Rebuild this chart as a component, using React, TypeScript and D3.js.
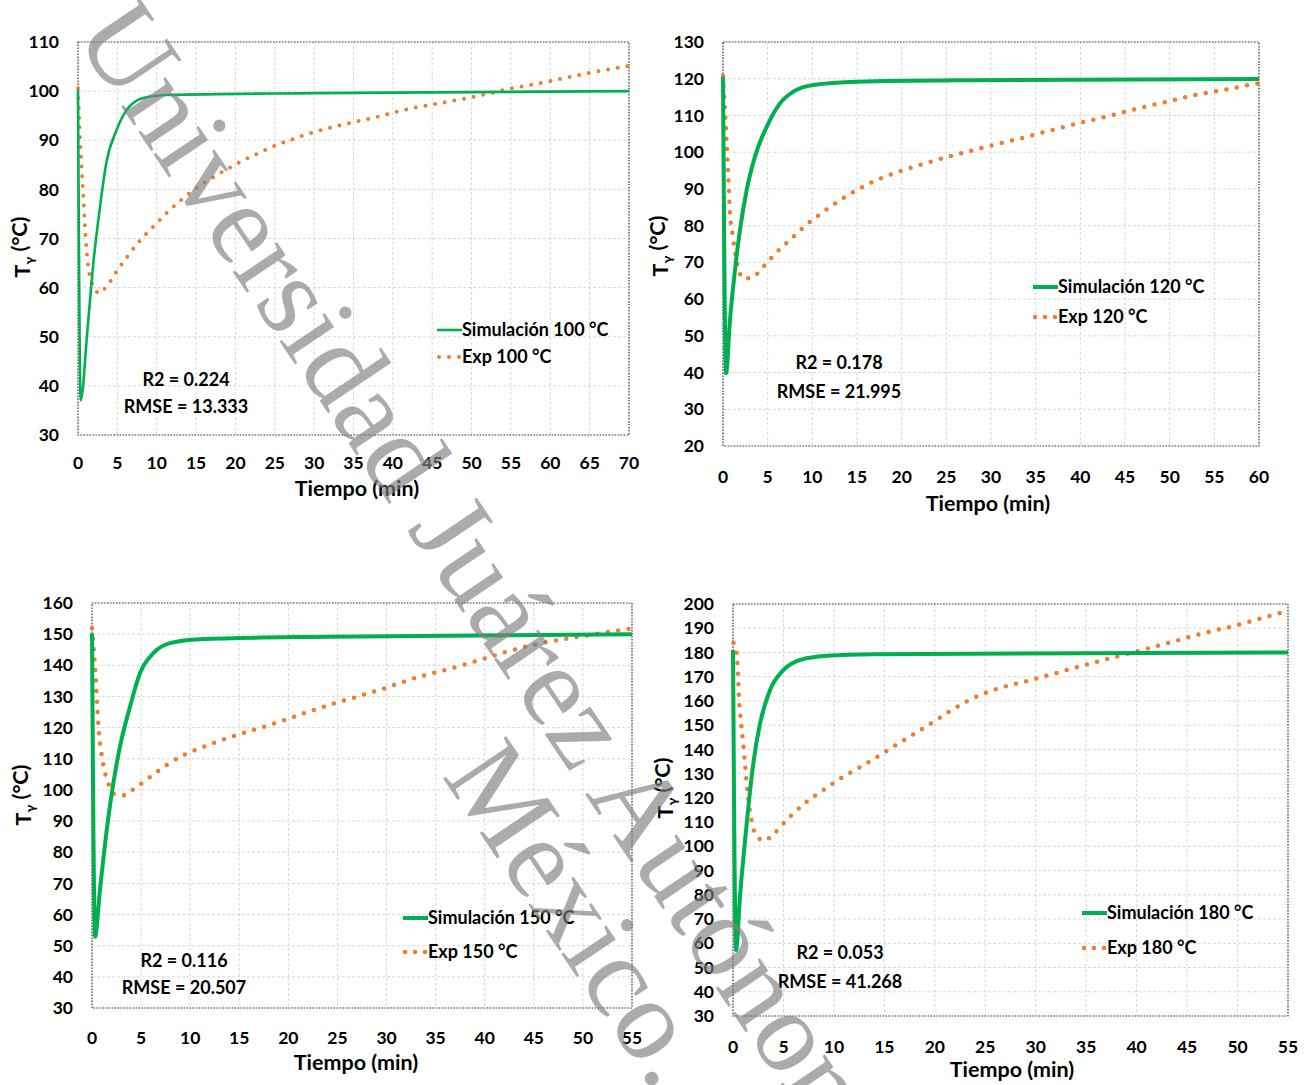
import React from "react";
import * as d3 from "d3";

// [tiempo (min), temperatura (°C)]
const sim100: [number, number][] = [[0, 100.3], [0.34, 37.1], [1.2, 51.4], [1.95, 65], [2.8, 76.5], [3.6, 85.4], [4.9, 92.1], [6.2, 96.2], [8.3, 98.6], [11.3, 99.2], [30, 99.6], [70, 100]];
const exp100: [number, number][] = [[0, 100.6], [0.25, 90.4], [0.47, 84.3], [0.68, 78.2], [0.89, 72.2], [1.06, 68.2], [1.31, 64.2], [1.52, 62.2], [1.95, 60.3], [2.67, 58.9], [3.56, 60.1], [4.96, 63.4], [6.4, 66.6], [7.88, 69.6], [9.57, 72.4], [11.27, 75.2], [13, 77.7], [14.87, 80.1], [16.86, 82.2], [18.9, 84.1], [21, 85.9], [23.1, 87.5], [25.2, 89], [27.4, 90.3], [29.5, 91.4], [32.9, 92.9], [37.3, 94.5], [41.8, 96.3], [46.4, 97.7], [49.8, 98.7], [51.9, 99.4], [54.3, 100.3], [57.6, 101.3], [61, 102.4], [64.3, 103.5], [67.6, 104.5], [70, 105.1]];

const sim120: [number, number][] = [[0, 120.5], [0.34, 39.8], [0.78, 54.3], [1.34, 67.9], [1.9, 78.8], [2.65, 89.7], [3.58, 98.8], [4.89, 106.9], [6.38, 113.3], [7.87, 116.5], [10.1, 118.3], [15, 119.2], [27.5, 119.6], [60, 119.9]];
const exp120: [number, number][] = [[0, 120.8], [0.22, 111.5], [0.41, 102.4], [0.6, 92.9], [0.78, 83.6], [1.08, 77.4], [1.46, 71.3], [1.72, 68.3], [2.28, 65.6], [3.32, 65.9], [4.18, 67.9], [5, 70.1], [5.78, 72.2], [7.5, 76.1], [9.26, 80.1], [11.1, 83.5], [13, 86.8], [15, 89.7], [17, 92.2], [19.1, 94.2], [21.3, 96], [23.4, 97.5], [25.6, 99], [27.6, 100.3], [30, 101.8], [33.2, 103.7], [36.5, 105.8], [39.8, 107.9], [43.1, 109.8], [46.3, 111.8], [49.6, 113.7], [52.9, 115.6], [56.2, 117], [59.5, 118.6], [60, 118.8]];

const sim150: [number, number][] = [[0, 150.3], [0.31, 52.9], [0.81, 67.9], [1.5, 87.1], [2.17, 102.1], [2.85, 113.9], [3.87, 126.7], [4.89, 137.5], [6.25, 143.9], [7.94, 147.1], [11, 148.4], [24.2, 149.2], [55, 150]];
const exp150: [number, number][] = [[0, 151.9], [0.1, 148.4], [0.27, 141.2], [0.41, 133.8], [0.54, 126.5], [0.68, 119.2], [0.95, 112.1], [1.36, 105], [1.73, 101.6], [2.27, 98.7], [3.26, 98.3], [4.21, 100.2], [5.91, 104.1], [7.6, 108], [9.47, 111.4], [11.4, 113.9], [13.3, 116.1], [15.3, 118.2], [17.3, 120.1], [19.3, 122.1], [21.3, 124.3], [24.2, 127.3], [27.3, 130.2], [30.25, 133.1], [33.2, 136.2], [36.2, 138.7], [39.2, 141.4], [42.2, 144.3], [45.3, 146.8], [48.3, 148.5], [51.4, 150.1], [54.5, 151.6], [55, 151.8]];

const sim180: [number, number][] = [[0, 181], [0.3, 57.2], [0.69, 79.2], [1.36, 109.5], [2.01, 134.2], [2.68, 150.7], [3.67, 164.5], [4.99, 172.7], [6.64, 176.9], [9.3, 178.6], [13.9, 179.3], [55, 180]];
const exp180: [number, number][] = [[0.05, 184], [0.36, 179.9], [0.5, 170.4], [0.59, 161.1], [0.79, 151.4], [1.02, 142.1], [1.22, 132.6], [1.42, 123.1], [1.71, 113.7], [2.28, 104.7], [3.1, 102.3], [4, 105], [5.48, 111.6], [7.07, 117.6], [8.79, 122.8], [10.5, 127.6], [12.4, 132.2], [14.2, 136.7], [16, 141.4], [17.8, 146], [19.6, 150.7], [21.4, 155.5], [23.2, 159.9], [26.1, 164.9], [29.1, 168.2], [32.1, 171.6], [35.2, 175.2], [38.2, 178.5], [40.2, 180.6], [43.2, 184], [46.2, 187.5], [49.3, 190.6], [52.2, 193.9], [54.3, 196.3], [55, 196.8]];

const simLabels = ["Simulación 100 °C", "Simulación 120 °C", "Simulación 150 °C", "Simulación 180 °C"];
const expLabels = ["Exp 100 °C", "Exp 120 °C", "Exp 150 °C", "Exp 180 °C"];
const r2Labels = ["R2 = 0.224", "R2 = 0.178", "R2 = 0.116", "R2 = 0.053"];
const rmseLabels = ["RMSE = 13.333", "RMSE = 21.995", "RMSE = 20.507", "RMSE = 41.268"];
const xMaxes = [70, 60, 55, 55];
const yDomains: [number, number][] = [[30, 110], [20, 130], [30, 160], [30, 200]];

const FONT = "Lato, 'Open Sans', sans-serif";
const GREEN = "#00b050";
const ORANGE = "#ed7d31";

// layout of each panel (pixels)
const layouts = [
  { l: 78, r: 629, t: 42, b: 435, lw: 2.6, dot: 4, gap: 9.8, legX: 437, legY: [330, 357], statX: 186, statY: [380, 407], yTitle: [22, 247], xTitle: [357, 488], xLab: 463 },
  { l: 723, r: 1259, t: 42, b: 446, lw: 4, dot: 4.5, gap: 10.5, legX: 1033, legY: [287, 317], statX: 839, statY: [363, 392], yTitle: [660, 246], xTitle: [988, 503], xLab: 477 },
  { l: 92, r: 632, t: 603, b: 1008, lw: 4, dot: 4.5, gap: 10.5, legX: 403, legY: [918, 952], statX: 184, statY: [961, 988], yTitle: [23, 795], xTitle: [356, 1062], xLab: 1038 },
  { l: 733, r: 1288, t: 604, b: 1016, lw: 4, dot: 4.5, gap: 10.5, legX: 1082, legY: [913, 948], statX: 840, statY: [953, 982], yTitle: [665, 788], xTitle: [1012, 1069], xLab: 1047 },
];

const simSeries = [sim100, sim120, sim150, sim180];
const expSeries = [exp100, exp120, exp150, exp180];

function Panel({ i }: { i: number }) {
  const L = layouts[i];
  const x = d3.scaleLinear().domain([0, xMaxes[i]]).range([L.l, L.r]);
  const y = d3.scaleLinear().domain(yDomains[i]).range([L.b, L.t]);
  const xTicks = d3.range(0, xMaxes[i] + 0.1, 5);
  const yTicks = d3.range(yDomains[i][0], yDomains[i][1] + 0.1, 10);
  const line = d3.line<[number, number]>()
    .x((d) => x(d[0]))
    .y((d) => y(d[1]))
    .curve(d3.curveMonotoneX);
  const dash = `0 ${L.gap}`;

  return (
    <g fontFamily={FONT} fontWeight="bold" fill="#000">
      {/* grid */}
      {yTicks.map((v) => (
        <line key={"h" + v} x1={L.l} x2={L.r} y1={y(v)} y2={y(v)} stroke="#d9d9d9" strokeDasharray="3 2" />
      ))}
      {xTicks.map((v) => (
        <line key={"v" + v} x1={x(v)} x2={x(v)} y1={L.t} y2={L.b} stroke="#d9d9d9" strokeDasharray="3 2" />
      ))}
      <rect x={L.l} y={L.t} width={L.r - L.l} height={L.b - L.t} fill="none" stroke="#404040" strokeWidth={1.2} strokeDasharray="1.5 1.5" />

      {/* tick labels */}
      {yTicks.map((v) => (
        <text key={"yl" + v} x={L.l - 19} y={y(v)} dy="0.35em" textAnchor="end" fontSize={17.5}>{v}</text>
      ))}
      {xTicks.map((v) => (
        <text key={"xl" + v} x={x(v)} y={L.xLab} dy="0.35em" textAnchor="middle" fontSize={17.5}>{v}</text>
      ))}

      {/* series */}
      <path d={line(expSeries[i]) || ""} fill="none" stroke={ORANGE} strokeWidth={L.dot} strokeLinecap="round" strokeDasharray={dash} />
      <path d={line(simSeries[i]) || ""} fill="none" stroke={GREEN} strokeWidth={L.lw} strokeLinejoin="round" />

      {/* legend */}
      <line x1={L.legX} x2={L.legX + 25} y1={L.legY[0]} y2={L.legY[0]} stroke={GREEN} strokeWidth={L.lw} />
      <text x={L.legX + 25} y={L.legY[0]} dy="0.35em" fontSize={18}>{simLabels[i]}</text>
      <line x1={L.legX + 2} x2={L.legX + 23} y1={L.legY[1]} y2={L.legY[1]} stroke={ORANGE} strokeWidth={L.dot} strokeLinecap="round" strokeDasharray="0 10" />
      <text x={L.legX + 25} y={L.legY[1]} dy="0.35em" fontSize={18}>{expLabels[i]}</text>

      {/* stats */}
      <text x={L.statX} y={L.statY[0]} dy="0.35em" textAnchor="middle" fontSize={18}>{r2Labels[i]}</text>
      <text x={L.statX} y={L.statY[1]} dy="0.35em" textAnchor="middle" fontSize={18}>{rmseLabels[i]}</text>

      {/* axis titles */}
      <text x={L.xTitle[0]} y={L.xTitle[1]} dy="0.35em" textAnchor="middle" fontSize={21.5}>Tiempo (min)</text>
      <text transform={`translate(${L.yTitle[0]},${L.yTitle[1]}) rotate(-90)`} dy="0.35em" textAnchor="middle" fontSize={21.5}>
        T<tspan fontSize={14} dy="0.3em">γ</tspan><tspan dy="-0.3em"> (°C)</tspan>
      </text>
    </g>
  );
}

export default function App() {
  return (
    <svg width={1312} height={1085} style={{ position: "absolute", left: 0, top: 0, background: "#fff" }}>
      <rect width={1312} height={1085} fill="#fff" />
      {[0, 1, 2, 3].map((i) => (
        <Panel key={i} i={i} />
      ))}
      {/* marca de agua */}
      <g transform="translate(73,35) rotate(56)" fontFamily="'Liberation Serif', 'DejaVu Serif', serif" fontSize={116} fill="#7f7f7f" opacity={0.65}>
        <text x={0} y={0}>Universidad Juárez Autónoma de Tabasco.</text>
        <text x={820} y={109}>México.</text>
      </g>
    </svg>
  );
}
